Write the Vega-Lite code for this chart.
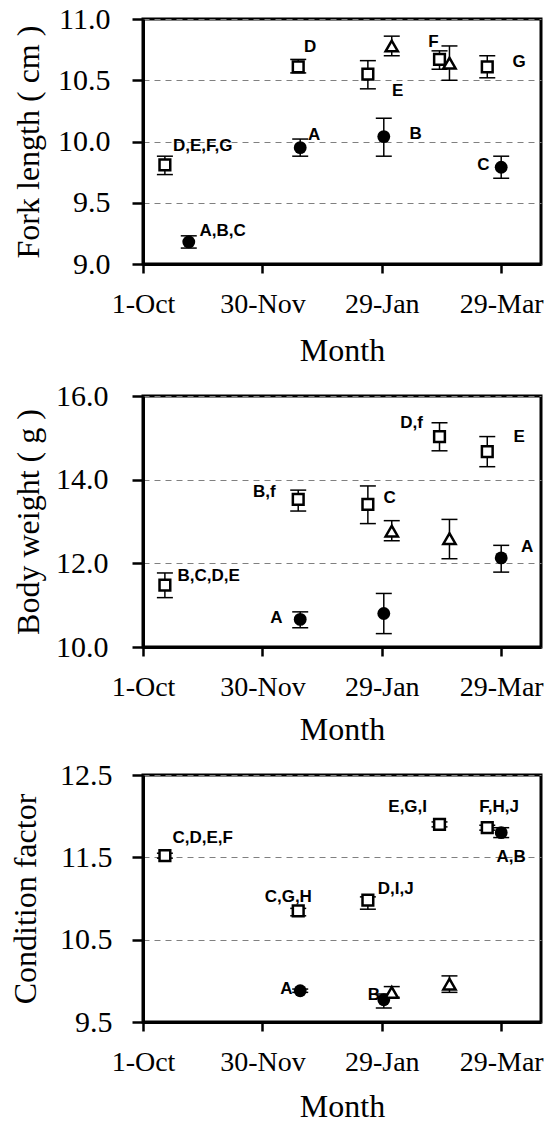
{
  "$schema": "https://vega.github.io/schema/vega-lite/v6.json",
  "padding": {"left": 8, "top": 2, "right": 5, "bottom": 0},
  "spacing": 11,
  "datasets": {
    "fl": [
      {"date": "2007-10-12", "group": "square", "mean": 9.81, "lo": 9.73, "hi": 9.88},
      {"date": "2007-10-24", "group": "circle", "mean": 9.18, "lo": 9.13, "hi": 9.23},
      {"date": "2007-12-18", "group": "square", "mean": 10.61, "lo": 10.56, "hi": 10.67},
      {"date": "2007-12-19", "group": "circle", "mean": 9.95, "lo": 9.88, "hi": 10.02},
      {"date": "2008-01-22", "group": "square", "mean": 10.55, "lo": 10.43, "hi": 10.66},
      {"date": "2008-01-30", "group": "circle", "mean": 10.04, "lo": 9.88, "hi": 10.19},
      {"date": "2008-02-03", "group": "triangle", "mean": 10.78, "lo": 10.7, "hi": 10.86},
      {"date": "2008-02-27", "group": "square", "mean": 10.67, "lo": 10.59, "hi": 10.74},
      {"date": "2008-03-03", "group": "triangle", "mean": 10.64, "lo": 10.5, "hi": 10.78},
      {"date": "2008-03-22", "group": "square", "mean": 10.61, "lo": 10.52, "hi": 10.7},
      {"date": "2008-03-29", "group": "circle", "mean": 9.79, "lo": 9.7, "hi": 9.88}
    ],
    "fl_lab": [
      {"date": "2007-10-31", "value": 9.96, "text": "D,E,F,G"},
      {"date": "2007-11-10", "value": 9.27, "text": "A,B,C"},
      {"date": "2007-12-24", "value": 10.77, "text": "D"},
      {"date": "2007-12-26", "value": 10.05, "text": "A"},
      {"date": "2008-02-06", "value": 10.41, "text": "E"},
      {"date": "2008-02-15", "value": 10.06, "text": "B"},
      {"date": "2008-02-24", "value": 10.81, "text": "F"},
      {"date": "2008-04-07", "value": 10.65, "text": "G"},
      {"date": "2008-03-20", "value": 9.81, "text": "C"}
    ],
    "bw": [
      {"date": "2007-10-12", "group": "square", "mean": 11.48, "lo": 11.18, "hi": 11.77},
      {"date": "2007-12-18", "group": "square", "mean": 13.53, "lo": 13.25, "hi": 13.75},
      {"date": "2007-12-19", "group": "circle", "mean": 10.66, "lo": 10.46, "hi": 10.84},
      {"date": "2008-01-22", "group": "square", "mean": 13.41, "lo": 12.95, "hi": 13.85},
      {"date": "2008-01-30", "group": "circle", "mean": 10.8, "lo": 10.32, "hi": 11.28},
      {"date": "2008-02-03", "group": "triangle", "mean": 12.77, "lo": 12.54, "hi": 13.02},
      {"date": "2008-02-27", "group": "square", "mean": 15.03, "lo": 14.69, "hi": 15.36},
      {"date": "2008-03-03", "group": "triangle", "mean": 12.59, "lo": 12.11, "hi": 13.05},
      {"date": "2008-03-22", "group": "square", "mean": 14.67, "lo": 14.31, "hi": 15.03},
      {"date": "2008-03-29", "group": "circle", "mean": 12.13, "lo": 11.79, "hi": 12.43}
    ],
    "bw_lab": [
      {"date": "2007-11-03", "value": 11.69, "text": "B,C,D,E"},
      {"date": "2007-12-07", "value": 10.7, "text": "A"},
      {"date": "2007-12-01", "value": 13.71, "text": "B,f"},
      {"date": "2008-02-02", "value": 13.57, "text": "C"},
      {"date": "2008-02-13", "value": 15.36, "text": "D,f"},
      {"date": "2008-04-07", "value": 15.03, "text": "E"},
      {"date": "2008-04-11", "value": 12.38, "text": "A"}
    ],
    "cf": [
      {"date": "2007-10-12", "group": "square", "mean": 11.52, "lo": 11.49, "hi": 11.55},
      {"date": "2007-12-18", "group": "square", "mean": 10.85, "lo": 10.79, "hi": 10.88},
      {"date": "2007-12-19", "group": "circle", "mean": 9.88, "lo": 9.86, "hi": 9.9},
      {"date": "2008-01-22", "group": "square", "mean": 10.98, "lo": 10.87, "hi": 11.02},
      {"date": "2008-01-30", "group": "circle", "mean": 9.77, "lo": 9.67, "hi": 9.84},
      {"date": "2008-02-03", "group": "triangle", "mean": 9.86, "lo": 9.8, "hi": 9.93},
      {"date": "2008-02-27", "group": "square", "mean": 11.9, "lo": 11.87, "hi": 11.93},
      {"date": "2008-03-03", "group": "triangle", "mean": 9.96, "lo": 9.86, "hi": 10.06},
      {"date": "2008-03-22", "group": "square", "mean": 11.86, "lo": 11.83, "hi": 11.89},
      {"date": "2008-03-29", "group": "circle", "mean": 11.8, "lo": 11.74, "hi": 11.86}
    ],
    "cf_lab": [
      {"date": "2007-10-31", "value": 11.74, "text": "C,D,E,F"},
      {"date": "2007-12-13", "value": 11.02, "text": "C,G,H"},
      {"date": "2007-12-12", "value": 9.9, "text": "A"},
      {"date": "2008-02-05", "value": 11.12, "text": "D,I,J"},
      {"date": "2008-01-25", "value": 9.83, "text": "B"},
      {"date": "2008-02-11", "value": 12.11, "text": "E,G,I"},
      {"date": "2008-03-28", "value": 12.11, "text": "F,H,J"},
      {"date": "2008-04-03", "value": 11.5, "text": "A,B"}
    ]
  },
  "vconcat": [
    {
      "width": 398,
      "height": 245,
      "layer": [
        {
          "data": {"name": "fl"},
          "mark": {"type": "rule", "color": "black", "strokeWidth": 1.5},
          "encoding": {
            "x": {"field": "date", "type": "temporal", "title": "Month",
              "scale": {"type": "utc", "nice": false, "domain": [{"year": 2007, "month": 10, "date": 1, "utc": true}, {"year": 2008, "month": 4, "date": 18, "utc": true}]},
              "axis": {"values": [{"year": 2007, "month": 10, "date": 1, "utc": true}, {"year": 2007, "month": 11, "date": 30, "utc": true}, {"year": 2008, "month": 1, "date": 29, "utc": true}, {"year": 2008, "month": 3, "date": 29, "utc": true}], "format": "%-d-%b", "titlePadding": 17}},
            "y": {"field": "lo", "type": "quantitative", "title": "Fork length ( cm )",
              "scale": {"domain": [9, 11], "nice": false, "zero": false},
              "axis": {"values": [9, 9.5, 10, 10.5, 11], "format": ".1f", "titlePadding": 12, "labelPadding": 22}},
            "y2": {"field": "hi"}
          }
        },
        {
          "data": {"name": "fl"},
          "mark": {"type": "tick", "orient": "horizontal", "size": 16, "thickness": 1.5, "color": "black", "opacity": 1},
          "encoding": {"x": {"field": "date", "type": "temporal"}, "y": {"field": "lo", "type": "quantitative"}}
        },
        {
          "data": {"name": "fl"},
          "mark": {"type": "tick", "orient": "horizontal", "size": 16, "thickness": 1.5, "color": "black", "opacity": 1},
          "encoding": {"x": {"field": "date", "type": "temporal"}, "y": {"field": "hi", "type": "quantitative"}}
        },
        {
          "data": {"name": "fl_lab"},
          "mark": {"type": "text", "font": "Liberation Sans", "fontWeight": "bold", "fontSize": 17, "color": "black", "align": "center", "baseline": "middle"},
          "encoding": {"x": {"field": "date", "type": "temporal"}, "y": {"field": "value", "type": "quantitative"}, "text": {"field": "text"}}
        },
        {
          "data": {"name": "fl"},
          "transform": [{"filter": "datum.group === 'circle'"}],
          "mark": {"type": "point", "shape": "circle", "filled": true, "color": "black", "opacity": 1, "size": 165},
          "encoding": {"x": {"field": "date", "type": "temporal"}, "y": {"field": "mean", "type": "quantitative"}}
        },
        {
          "data": {"name": "fl"},
          "transform": [{"filter": "datum.group === 'square'"}],
          "mark": {"type": "point", "shape": "square", "filled": true, "fill": "white", "opacity": 1, "fillOpacity": 1, "stroke": "black", "strokeWidth": 2.5, "size": 115},
          "encoding": {"x": {"field": "date", "type": "temporal"}, "y": {"field": "mean", "type": "quantitative"}}
        },
        {
          "data": {"name": "fl"},
          "transform": [{"filter": "datum.group === 'triangle'"}],
          "mark": {"type": "point", "shape": "triangle-up", "filled": true, "fill": "white", "opacity": 1, "fillOpacity": 1, "stroke": "black", "strokeWidth": 2.5, "size": 150},
          "encoding": {"x": {"field": "date", "type": "temporal"}, "y": {"field": "mean", "type": "quantitative"}}
        }
      ]
    },
    {
      "width": 398,
      "height": 251,
      "layer": [
        {
          "data": {"name": "bw"},
          "mark": {"type": "rule", "color": "black", "strokeWidth": 1.5},
          "encoding": {
            "x": {"field": "date", "type": "temporal", "title": "Month",
              "scale": {"type": "utc", "nice": false, "domain": [{"year": 2007, "month": 10, "date": 1, "utc": true}, {"year": 2008, "month": 4, "date": 18, "utc": true}]},
              "axis": {"values": [{"year": 2007, "month": 10, "date": 1, "utc": true}, {"year": 2007, "month": 11, "date": 30, "utc": true}, {"year": 2008, "month": 1, "date": 29, "utc": true}, {"year": 2008, "month": 3, "date": 29, "utc": true}], "format": "%-d-%b", "titlePadding": 13}},
            "y": {"field": "lo", "type": "quantitative", "title": "Body weight ( g )",
              "scale": {"domain": [10, 16], "nice": false, "zero": false},
              "axis": {"values": [10, 12, 14, 16], "format": ".1f", "titlePadding": 10, "labelPadding": 24}},
            "y2": {"field": "hi"}
          }
        },
        {
          "data": {"name": "bw"},
          "mark": {"type": "tick", "orient": "horizontal", "size": 16, "thickness": 1.5, "color": "black", "opacity": 1},
          "encoding": {"x": {"field": "date", "type": "temporal"}, "y": {"field": "lo", "type": "quantitative"}}
        },
        {
          "data": {"name": "bw"},
          "mark": {"type": "tick", "orient": "horizontal", "size": 16, "thickness": 1.5, "color": "black", "opacity": 1},
          "encoding": {"x": {"field": "date", "type": "temporal"}, "y": {"field": "hi", "type": "quantitative"}}
        },
        {
          "data": {"name": "bw_lab"},
          "mark": {"type": "text", "font": "Liberation Sans", "fontWeight": "bold", "fontSize": 17, "color": "black", "align": "center", "baseline": "middle"},
          "encoding": {"x": {"field": "date", "type": "temporal"}, "y": {"field": "value", "type": "quantitative"}, "text": {"field": "text"}}
        },
        {
          "data": {"name": "bw"},
          "transform": [{"filter": "datum.group === 'circle'"}],
          "mark": {"type": "point", "shape": "circle", "filled": true, "color": "black", "opacity": 1, "size": 165},
          "encoding": {"x": {"field": "date", "type": "temporal"}, "y": {"field": "mean", "type": "quantitative"}}
        },
        {
          "data": {"name": "bw"},
          "transform": [{"filter": "datum.group === 'square'"}],
          "mark": {"type": "point", "shape": "square", "filled": true, "fill": "white", "opacity": 1, "fillOpacity": 1, "stroke": "black", "strokeWidth": 2.5, "size": 115},
          "encoding": {"x": {"field": "date", "type": "temporal"}, "y": {"field": "mean", "type": "quantitative"}}
        },
        {
          "data": {"name": "bw"},
          "transform": [{"filter": "datum.group === 'triangle'"}],
          "mark": {"type": "point", "shape": "triangle-up", "filled": true, "fill": "white", "opacity": 1, "fillOpacity": 1, "stroke": "black", "strokeWidth": 2.5, "size": 150},
          "encoding": {"x": {"field": "date", "type": "temporal"}, "y": {"field": "mean", "type": "quantitative"}}
        }
      ]
    },
    {
      "width": 398,
      "height": 247,
      "layer": [
        {
          "data": {"name": "cf"},
          "mark": {"type": "rule", "color": "black", "strokeWidth": 1.5},
          "encoding": {
            "x": {"field": "date", "type": "temporal", "title": "Month",
              "scale": {"type": "utc", "nice": false, "domain": [{"year": 2007, "month": 10, "date": 1, "utc": true}, {"year": 2008, "month": 4, "date": 18, "utc": true}]},
              "axis": {"values": [{"year": 2007, "month": 10, "date": 1, "utc": true}, {"year": 2007, "month": 11, "date": 30, "utc": true}, {"year": 2008, "month": 1, "date": 29, "utc": true}, {"year": 2008, "month": 3, "date": 29, "utc": true}], "format": "%-d-%b", "titlePadding": 15}},
            "y": {"field": "lo", "type": "quantitative", "title": "Condition factor",
              "scale": {"domain": [9.5, 12.5], "nice": false, "zero": false},
              "axis": {"values": [9.5, 10.5, 11.5, 12.5], "format": ".1f", "titlePadding": 17, "labelPadding": 20}},
            "y2": {"field": "hi"}
          }
        },
        {
          "data": {"name": "cf"},
          "mark": {"type": "tick", "orient": "horizontal", "size": 16, "thickness": 1.5, "color": "black", "opacity": 1},
          "encoding": {"x": {"field": "date", "type": "temporal"}, "y": {"field": "lo", "type": "quantitative"}}
        },
        {
          "data": {"name": "cf"},
          "mark": {"type": "tick", "orient": "horizontal", "size": 16, "thickness": 1.5, "color": "black", "opacity": 1},
          "encoding": {"x": {"field": "date", "type": "temporal"}, "y": {"field": "hi", "type": "quantitative"}}
        },
        {
          "data": {"name": "cf_lab"},
          "mark": {"type": "text", "font": "Liberation Sans", "fontWeight": "bold", "fontSize": 17, "color": "black", "align": "center", "baseline": "middle"},
          "encoding": {"x": {"field": "date", "type": "temporal"}, "y": {"field": "value", "type": "quantitative"}, "text": {"field": "text"}}
        },
        {
          "data": {"name": "cf"},
          "transform": [{"filter": "datum.group === 'circle'"}],
          "mark": {"type": "point", "shape": "circle", "filled": true, "color": "black", "opacity": 1, "size": 165},
          "encoding": {"x": {"field": "date", "type": "temporal"}, "y": {"field": "mean", "type": "quantitative"}}
        },
        {
          "data": {"name": "cf"},
          "transform": [{"filter": "datum.group === 'square'"}],
          "mark": {"type": "point", "shape": "square", "filled": true, "fill": "white", "opacity": 1, "fillOpacity": 1, "stroke": "black", "strokeWidth": 2.5, "size": 115},
          "encoding": {"x": {"field": "date", "type": "temporal"}, "y": {"field": "mean", "type": "quantitative"}}
        },
        {
          "data": {"name": "cf"},
          "transform": [{"filter": "datum.group === 'triangle'"}],
          "mark": {"type": "point", "shape": "triangle-up", "filled": true, "fill": "white", "opacity": 1, "fillOpacity": 1, "stroke": "black", "strokeWidth": 2.5, "size": 150},
          "encoding": {"x": {"field": "date", "type": "temporal"}, "y": {"field": "mean", "type": "quantitative"}}
        }
      ]
    }
  ],
  "config": {
    "view": {"stroke": "black", "strokeWidth": 3},
    "font": "Liberation Serif",
    "axis": {
      "labelFont": "Liberation Serif", "labelFontSize": 28, "labelColor": "black",
      "titleFont": "Liberation Serif", "titleFontSize": 32, "titleFontWeight": "normal", "titleColor": "black",
      "domainColor": "black", "domainWidth": 3,
      "tickColor": "black", "tickWidth": 2.5,
      "gridColor": "#808080", "gridDash": [6, 5], "gridWidth": 1,
      "labelFlush": false, "labelOverlap": false
    },
    "axisX": {"tickSize": 9, "labelPadding": 17, "grid": false},
    "axisY": {"tickSize": 11, "grid": true, "labelFontSize": 30}
  }
}
